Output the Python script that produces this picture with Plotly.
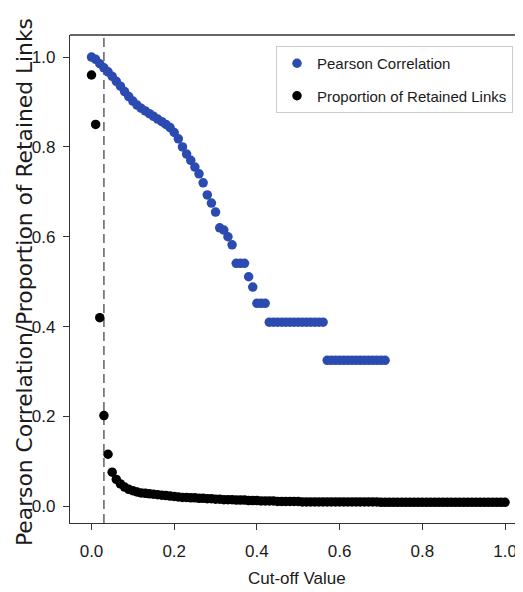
import plotly.graph_objects as go

# ---- data ----
pearson_x = [
    0.00, 0.01, 0.02, 0.03, 0.04, 0.05, 0.06, 0.07, 0.08, 0.09,
    0.10, 0.11, 0.12, 0.13, 0.14, 0.15, 0.16, 0.17, 0.18, 0.19,
    0.20, 0.21, 0.22, 0.23, 0.24, 0.25, 0.26, 0.27, 0.28, 0.29,
    0.30, 0.31, 0.32, 0.33, 0.34, 0.35, 0.36, 0.37, 0.38, 0.39,
    0.40, 0.41, 0.42, 0.43, 0.44, 0.45, 0.46, 0.47, 0.48, 0.49,
    0.50, 0.51, 0.52, 0.53, 0.54, 0.55, 0.56, 0.57, 0.58, 0.59,
    0.60, 0.61, 0.62, 0.63, 0.64, 0.65, 0.66, 0.67, 0.68, 0.69,
    0.70, 0.71,
]
pearson_y = [
    1.000, 0.995, 0.985, 0.976, 0.967, 0.957, 0.946, 0.935, 0.923, 0.912,
    0.902, 0.893, 0.886, 0.880, 0.874, 0.868, 0.862, 0.856, 0.850, 0.843,
    0.832, 0.818, 0.800, 0.784, 0.770, 0.755, 0.740, 0.720, 0.693, 0.675,
    0.655, 0.620, 0.615, 0.600, 0.582, 0.541, 0.541, 0.541, 0.511, 0.488,
    0.452, 0.452, 0.452, 0.410, 0.410, 0.410, 0.410, 0.410, 0.410, 0.410,
    0.410, 0.410, 0.410, 0.410, 0.410, 0.410, 0.410, 0.325, 0.325, 0.325,
    0.325, 0.325, 0.325, 0.325, 0.325, 0.325, 0.325, 0.325, 0.325, 0.325,
    0.325, 0.325,
]

links_x = [
    0.00, 0.01, 0.02, 0.03, 0.04, 0.05, 0.06, 0.07, 0.08, 0.09,
    0.10, 0.11, 0.12, 0.13, 0.14, 0.15, 0.16, 0.17, 0.18, 0.19,
    0.20, 0.21, 0.22, 0.23, 0.24, 0.25, 0.26, 0.27, 0.28, 0.29,
    0.30, 0.31, 0.32, 0.33, 0.34, 0.35, 0.36, 0.37, 0.38, 0.39,
    0.40, 0.41, 0.42, 0.43, 0.44, 0.45, 0.46, 0.47, 0.48, 0.49,
    0.50, 0.51, 0.52, 0.53, 0.54, 0.55, 0.56, 0.57, 0.58, 0.59,
    0.60, 0.61, 0.62, 0.63, 0.64, 0.65, 0.66, 0.67, 0.68, 0.69,
    0.70, 0.71, 0.72, 0.73, 0.74, 0.75, 0.76, 0.77, 0.78, 0.79,
    0.80, 0.81, 0.82, 0.83, 0.84, 0.85, 0.86, 0.87, 0.88, 0.89,
    0.90, 0.91, 0.92, 0.93, 0.94, 0.95, 0.96, 0.97, 0.98, 0.99,
    1.00,
]
links_y = [
    0.960, 0.850, 0.420, 0.202, 0.116, 0.076, 0.060, 0.050, 0.043, 0.038,
    0.035, 0.032, 0.030, 0.029, 0.028, 0.027, 0.026, 0.025, 0.024, 0.023,
    0.022, 0.021, 0.020, 0.020, 0.019, 0.019, 0.018, 0.018, 0.017, 0.017,
    0.016, 0.016, 0.015, 0.015, 0.015, 0.014, 0.014, 0.014, 0.013, 0.013,
    0.013, 0.012, 0.012, 0.012, 0.012, 0.011, 0.011, 0.011, 0.011, 0.011,
    0.011, 0.010, 0.010, 0.010, 0.010, 0.010, 0.010, 0.010, 0.010, 0.010,
    0.010, 0.010, 0.010, 0.010, 0.010, 0.010, 0.010, 0.010, 0.010, 0.010,
    0.009, 0.009, 0.009, 0.009, 0.009, 0.009, 0.009, 0.009, 0.009, 0.009,
    0.009, 0.009, 0.009, 0.009, 0.009, 0.009, 0.009, 0.009, 0.009, 0.009,
    0.009, 0.009, 0.009, 0.009, 0.009, 0.009, 0.009, 0.009, 0.009, 0.009,
    0.009,
]

cutoff_line = 0.03
x_ticks = [0.0, 0.2, 0.4, 0.6, 0.8, 1.0]
x_tick_labels = ["0.0", "0.2", "0.4", "0.6", "0.8", "1.0"]
y_ticks = [0.0, 0.2, 0.4, 0.6, 0.8, 1.0]
y_tick_labels = ["0.0", "0.2", "0.4", "0.6", "0.8", "1.0"]

SANS = "Liberation Sans, Arial, sans-serif"
AX = "#333333"
TXT = "#1a1a1a"

# page body has an 8px margin: figure is 515x584 placed at (8, 8)
W, H = 515, 584
ML, MT, MB = 62, 27, 69
PH = H - MT - MB  # plot height in px
PW = W - ML       # plot width in px

fig = go.Figure()
fig.add_trace(go.Scatter(
    x=pearson_x, y=pearson_y, mode="markers", name="Pearson Correlation",
    marker=dict(color="#2b4bb0", size=9.5, line=dict(width=0)),
    legendgroup="a",
))
fig.add_trace(go.Scatter(
    x=links_x, y=links_y, mode="markers", name="Proportion of Retained Links",
    marker=dict(color="#000000", size=9.5, line=dict(width=0)),
    legendgroup="b",
))

fig.add_shape(type="line", xref="x", yref="paper", x0=cutoff_line, x1=cutoff_line,
              y0=0, y1=1, line=dict(color="#6a6a6a", width=1.6, dash="9px,5px"), layer="below")
fig.add_shape(type="line", xref="paper", yref="paper", x0=0, x1=1, y0=1, y1=1,
              line=dict(color=AX, width=1.3))

fig.add_annotation(
    text="Pearson Correlation/Proportion of Retained Links",
    xref="paper", yref="paper", x=(16 - ML) / PW, y=(H - MB - 274) / PH,
    xanchor="center", yanchor="middle", textangle=-90, showarrow=False,
    font=dict(family="DejaVu Sans", size=21.8, color=TXT),
)
fig.add_annotation(
    text="Cut-off Value",
    xref="paper", yref="paper", x=0.5, y=(H - MB - 570) / PH,
    xanchor="center", yanchor="middle", showarrow=False,
    font=dict(family=SANS, size=17, color=TXT),
)

fig.update_layout(
    width=W, height=H,
    margin=dict(l=ML, r=0, t=MT, b=MB, autoexpand=False),
    paper_bgcolor="white", plot_bgcolor="white",
    showlegend=True,
    legend=dict(
        x=(268 - ML) / PW, y=(H - MB - 38) / PH, xanchor="left", yanchor="top",
        bgcolor="white", bordercolor="#cccccc", borderwidth=1,
        font=dict(family=SANS, size=15, color=TXT),
        traceorder="grouped", tracegroupgap=10,
    ),
    xaxis=dict(
        range=[-0.052, 1.0435], showgrid=False, zeroline=False,
        showline=True, linecolor=AX, linewidth=1.3,
        ticks="outside", ticklen=6, tickwidth=1.2, tickcolor=AX,
        tickvals=x_ticks, ticktext=x_tick_labels, ticklabelstandoff=6,
        tickfont=dict(family=SANS, size=17, color=TXT),
    ),
    yaxis=dict(
        range=[-0.037, 1.049], showgrid=False, zeroline=False,
        showline=True, linecolor=AX, linewidth=1.3,
        ticks="outside", ticklen=6, tickwidth=1.2, tickcolor=AX,
        tickvals=y_ticks, ticktext=y_tick_labels, ticklabelstandoff=4,
        tickfont=dict(family=SANS, size=17, color=TXT),
    ),
)

fig.write_html("out.html")
